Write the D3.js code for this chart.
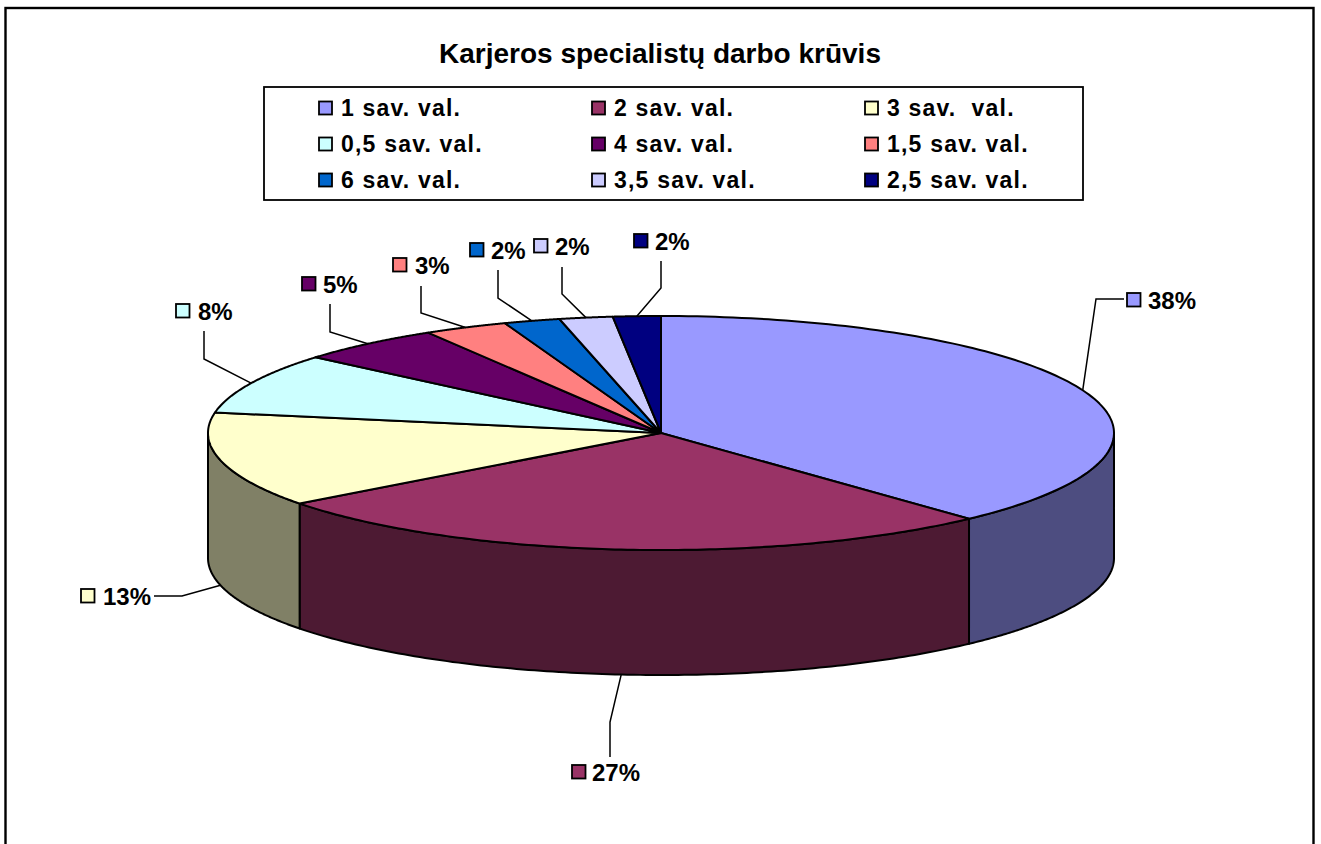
<!DOCTYPE html>
<html><head><meta charset="utf-8">
<script src="https://cdn.jsdelivr.net/npm/d3@7"></script>
<style>html,body{margin:0;padding:0;background:#fff;overflow:hidden}svg{display:block}
text{font-family:"Liberation Sans",Arial,sans-serif;font-weight:700;fill:#000;white-space:pre}</style>
</head><body><div id="chart"></div>
<script>
const title = "Karjeros specialistų darbo krūvis";
const categories = ["1 sav. val.","2 sav. val.","3 sav.  val.","0,5 sav. val.","4 sav. val.","1,5 sav. val.","6 sav. val.","3,5 sav. val.","2,5 sav. val."];
const values = [38.1,26.6,13.1,8.4,5.2,3.0,2.0,1.9,1.7];
const percentLabels = ["38%","27%","13%","8%","5%","3%","2%","2%","2%"];
const topColors = ["#9999FF","#993366","#FFFFCC","#CCFFFF","#660066","#FF8080","#0066CC","#CCCCFF","#000080"];
const sideColors = ["#4D4D80","#4D1A33","#808066","#668080","#330033","#804040","#003366","#666680","#000040"];

const W=1321,H=844;
const svg=d3.select("#chart").append("svg").attr("width",W).attr("height",H);
svg.append("rect").attr("x",5.5).attr("y",8).attr("width",1308).attr("height",H+20).attr("fill","#fff").attr("stroke","#000").attr("stroke-width",2.4);
svg.append("text").attr("x",660).attr("y",62.5).attr("text-anchor","middle").attr("font-size",28).text(title);

// legend
svg.append("rect").attr("x",264).attr("y",87).attr("width",819).attr("height",113).attr("fill","#fff").attr("stroke","#000").attr("stroke-width",1.8);
const colX=d3.scalePoint().domain([0,1,2]).range([319,865]);
const rowY=d3.scalePoint().domain([0,1,2]).range([108,180]);
categories.forEach((c,i)=>{
  const x=colX(i%3),y=rowY(Math.floor(i/3));
  svg.append("rect").attr("x",x).attr("y",y-6.5).attr("width",13).attr("height",13).attr("fill",topColors[i]).attr("stroke","#000").attr("stroke-width",1.8);
  svg.append("text").attr("x",x+22).attr("y",y+8).attr("font-size",23).attr("letter-spacing",1.2).text(c);
});

// pie
const cx=661,cy=433,rx=453,ry=117,depth=125;
const px=d3.scaleLinear().domain([-1,1]).range([cx-rx,cx+rx]);
const py=d3.scaleLinear().domain([-1,1]).range([cy-ry,cy+ry]);
const pt=(t,dz=0)=>[px(Math.sin(t)),py(-Math.cos(t))+dz];
const arcs=d3.pie().sort(null).value(d=>d)(values);
const line=d3.line();
const sample=(a,b,dz)=>d3.range(0,121).map(k=>pt(a+(b-a)*k/120,dz));
const lo=Math.PI/2,hi=3*Math.PI/2;
const G=svg.append("g").attr("stroke","#000").attr("stroke-width",2).attr("stroke-linejoin","round");
arcs.forEach((d,i)=>{
  const a=Math.max(d.startAngle,lo),b=Math.min(d.endAngle,hi);
  if(a>=b)return;
  const front=sample(a,b,0),back=sample(b,a,depth);
  G.append("path").attr("d",line(front.concat(back))+"Z").attr("fill",sideColors[i]);
});
arcs.forEach((d,i)=>{
  const pts=[[cx,cy]].concat(sample(d.startAngle,d.endAngle,0));
  G.append("path").attr("d",line(pts)+"Z").attr("fill",topColors[i]);
});

// callout placement, one per slice
const layout=[
 {pts:[[1096,299],[1124,299]],sw:[1127,293],tx:1148},
 {pts:[[610,722],[610,757]],sw:[572,765],tx:592},
 {pts:[[182,596],[154,596]],sw:[81,589],tx:103},
 {pts:[[204,359],[204,331]],sw:[176,304],tx:198},
 {pts:[[330,332],[330,304]],sw:[302,277],tx:323},
 {pts:[[421,313],[421,286]],sw:[393,258],tx:415},
 {pts:[[498,298],[498,270]],sw:[470,243],tx:491},
 {pts:[[562,294],[562,267]],sw:[534,239],tx:555},
 {pts:[[661,288],[661,261]],sw:[634,234],tx:655}
];
arcs.forEach((d,i)=>{
  const m=(d.startAngle+d.endAngle)/2;
  const front=Math.cos(m)<0;
  const s=pt(m,front?depth:0);
  const L=layout[i];
  svg.append("path").attr("d",line([s].concat(L.pts))).attr("fill","none").attr("stroke","#000").attr("stroke-width",1.5);
  svg.append("rect").attr("x",L.sw[0]).attr("y",L.sw[1]).attr("width",13.5).attr("height",13.5).attr("fill",topColors[i]).attr("stroke","#000").attr("stroke-width",1.8);
  svg.append("text").attr("x",L.tx).attr("y",L.sw[1]+15.5).attr("font-size",24).text(percentLabels[i]);
});
</script></body></html>
